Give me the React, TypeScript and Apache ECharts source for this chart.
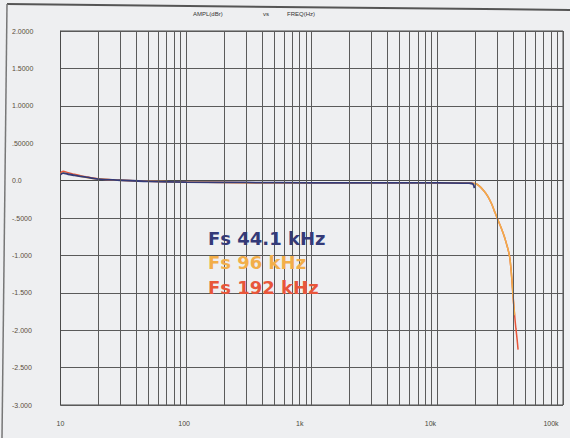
import React, { useEffect, useRef } from "react";
import * as echarts from "echarts";

const yTicks = [2, 1.5, 1, 0.5, 0, -0.5, -1, -1.5, -2, -2.5, -3];
const yTickLabels = ["2.0000", "1.5000", "1.0000", ".50000", "0.0", "-.5000", "-1.000", "-1.500", "-2.000", "-2.500", "-3.000"];
const xTicks = [10, 100, 1000, 10000, 100000];
const xTickLabels = ["10", "100", "1k", "10k", "100k"];
const minorFreqs = [
  20, 30, 40, 50, 60, 70, 80, 90,
  200, 300, 400, 500, 600, 700, 800, 900,
  2000, 3000, 4000, 5000, 6000, 7000, 8000, 9000,
  20000, 30000, 40000, 50000, 60000, 70000, 80000, 90000,
];

const fs441Freq = [10, 10.5, 11.5, 13, 16, 20, 30, 50, 100, 300, 1000, 3000, 10000, 18000, 19200, 19700];
const fs441Amp = [0.08, 0.1, 0.085, 0.07, 0.045, 0.02, 0.005, -0.01, -0.02, -0.025, -0.03, -0.03, -0.03, -0.035, -0.045, -0.1];

const fs96Freq = [10, 10.5, 12, 14, 20, 30, 100, 1000, 10000, 18000, 19900, 21500, 23500, 25200, 27000, 28800, 30400, 32000, 34000, 35700, 37000, 37900, 39000, 40100, 41200];
const fs96Amp = [0.09, 0.1, 0.08, 0.06, 0.02, 0.005, -0.02, -0.03, -0.03, -0.035, -0.04, -0.07, -0.14, -0.21, -0.31, -0.43, -0.53, -0.62, -0.74, -0.86, -0.96, -1.06, -1.28, -1.56, -1.8];

const fs192Freq = [10, 10.5, 11.3, 12.5, 15, 20, 30, 100, 1000, 10000, 18000, 19900, 21500, 23500, 25200, 27000, 28800, 30400, 32000, 34000, 35700, 37000, 37900, 39000, 40100, 41200, 42200, 43100, 43900];
const fs192Amp = [0.1, 0.125, 0.11, 0.09, 0.06, 0.025, 0.005, -0.02, -0.03, -0.03, -0.035, -0.04, -0.07, -0.14, -0.21, -0.31, -0.43, -0.53, -0.62, -0.74, -0.86, -0.96, -1.06, -1.28, -1.56, -1.8, -1.98, -2.12, -2.26];

const legendNames = ["Fs 44.1 kHz", "Fs 96 kHz", "Fs 192 kHz"];
const legendColors = ["#343a78", "#f2ae4a", "#e8563a"];

const xLabelShift: Record<string, number> = { "10": 0, "100": 2, "1k": 12, "10k": 7, "100k": 12 };

function pairs(xs: number[], ys: number[]) {
  return xs.map((x, i) => [x, ys[i]]);
}

export default function App() {
  const ref = useRef<HTMLDivElement>(null);
  useEffect(() => {
    if (!ref.current) return;
    const chart = echarts.init(ref.current, undefined, { renderer: "svg" });
    const rich: Record<string, any> = {};
    xTickLabels.forEach((l, i) => {
      rich["l" + i] = { padding: [0, 2 * xLabelShift[l], 0, 0], fontSize: 7, color: "#4a4a3c", fontFamily: "Liberation Sans" };
    });
    chart.setOption({
      animation: false,
      backgroundColor: "#eeeff1",
      grid: { left: 60.5, right: 7, top: 31, bottom: 33, show: true, borderColor: "#4a4a4a", borderWidth: 1 },
      xAxis: {
        type: "log",
        logBase: 10,
        min: 10,
        max: 100000,
        axisLine: { show: true, lineStyle: { color: "#4a4a4a", width: 1 } },
        axisTick: { show: false },
        splitLine: { show: true, lineStyle: { color: "#5a5a5a", width: 1 } },
        axisLabel: {
          margin: 15,
          formatter: (v: number) => {
            const i = xTicks.findIndex((t) => Math.abs(Math.log10(t) - Math.log10(v)) < 1e-6);
            return i >= 0 ? `{l${i}|${xTickLabels[i]}}` : "";
          },
          rich,
          fontSize: 7,
          color: "#4a4a3c",
        },
      },
      yAxis: {
        type: "value",
        min: -3,
        max: 2,
        interval: 0.5,
        axisLine: { show: true, lineStyle: { color: "#4a4a4a", width: 1 } },
        axisTick: { show: false },
        splitLine: { show: true, lineStyle: { color: "#5a5a5a", width: 1 } },
        axisLabel: {
          margin: 48.5,
          align: "left",
          fontSize: 7,
          color: "#5a4e3a",
          fontFamily: "Liberation Sans",
          formatter: (v: number) => {
            const i = yTicks.findIndex((t) => Math.abs(t - v) < 1e-6);
            return i >= 0 ? yTickLabels[i] : "";
          },
        },
      },
      graphic: [
        { type: "line", shape: { x1: 7, y1: 4, x2: 570, y2: 10 }, style: { stroke: "#555", lineWidth: 2 } },
        { type: "line", shape: { x1: 7, y1: 4, x2: 2, y2: 438 }, style: { stroke: "#777", lineWidth: 1.5 } },
        { type: "text", x: 193, y: 14, style: { text: "AMPL(dBr)", fontSize: 6, fill: "#333", fontFamily: "Liberation Sans", verticalAlign: "middle" } },
        { type: "text", x: 263, y: 14, style: { text: "vs", fontSize: 6, fill: "#333", fontFamily: "Liberation Sans", verticalAlign: "middle" } },
        { type: "text", x: 287, y: 14, style: { text: "FREQ(Hz)", fontSize: 6, fill: "#333", fontFamily: "Liberation Sans", verticalAlign: "middle" } },
        ...legendNames.map((n, i) => ({
          type: "text",
          x: 208,
          y: 238 + i * 24.5,
          z: 10,
          style: { text: n, fontSize: 18, fontWeight: "bold", fill: legendColors[i], fontFamily: "DejaVu Sans", verticalAlign: "middle" },
        })),
      ],
      series: [
        {
          name: legendNames[2],
          type: "line",
          data: pairs(fs192Freq, fs192Amp),
          showSymbol: false,
          smooth: 0.4,
          lineStyle: { color: legendColors[2], width: 1.5 },
          markLine: {
            silent: true,
            symbol: "none",
            label: { show: false },
            lineStyle: { color: "#5a5a5a", width: 1, type: "solid" },
            data: minorFreqs.map((f) => ({ xAxis: f })),
          },
        },
        {
          name: legendNames[1],
          type: "line",
          data: pairs(fs96Freq, fs96Amp),
          showSymbol: false,
          smooth: 0.4,
          lineStyle: { color: legendColors[1], width: 1.5 },
        },
        {
          name: legendNames[0],
          type: "line",
          data: pairs(fs441Freq, fs441Amp),
          showSymbol: false,
          smooth: 0.4,
          lineStyle: { color: legendColors[0], width: 1.8 },
        },
      ],
    });
    return () => chart.dispose();
  }, []);
  return <div ref={ref} style={{ position: "fixed", left: 0, top: 0, width: 570, height: 438 }} />;
}
